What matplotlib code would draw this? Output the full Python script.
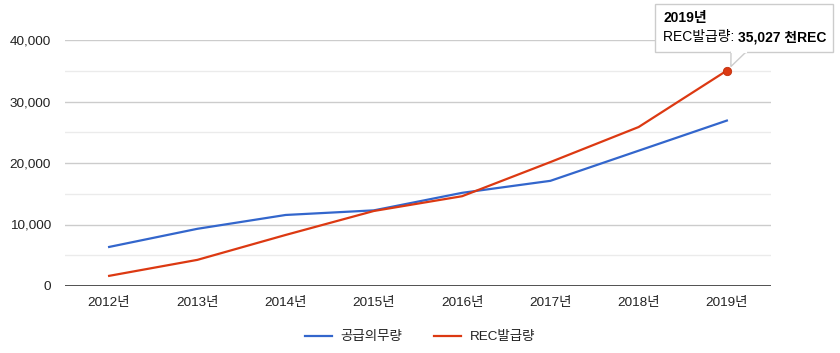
import matplotlib.pyplot as plt
from matplotlib.patches import Polygon, FancyBboxPatch

years = ['2012년', '2013년', '2014년', '2015년', '2016년', '2017년', '2018년', '2019년']
obligation = [6350, 9300, 11550, 12300, 15150, 17100, 22000, 26900]   # 공급의무량
rec_issued = [1650, 4250, 8300, 12200, 14600, 20150, 25850, 35027]   # REC발급량

BLUE = '#3366cc'
RED = '#dc3912'
FONT = ['Liberation Sans', 'Noto Sans CJK KR']

plt.rcParams['font.family'] = FONT

W, H = 840, 353
fig = plt.figure(figsize=(W / 100, H / 100), dpi=100)
ax = fig.add_axes([65 / W, 1 - 286 / H, (771 - 65) / W, (286 - 40) / H])

x = list(range(len(years)))
ax.plot(x, obligation, color=BLUE, lw=1.6, label='공급의무량', zorder=3)
ax.plot(x, rec_issued, color=RED, lw=1.6, label='REC발급량', zorder=3)
ax.plot([x[-1]], [rec_issued[-1]], 'o', color=RED, ms=6, mec='#c0300e', mew=0.6, zorder=4)

ax.set_xlim(-0.5, len(years) - 0.5)
ax.set_ylim(0, 40000)
ax.set_xticks(x)
ax.set_xticklabels(years)
ax.set_yticks([0, 10000, 20000, 30000, 40000])
ax.set_yticklabels(['0', '10,000', '20,000', '30,000', '40,000'])
for v in [5000, 15000, 25000, 35000]:
    ax.axhline(v, color='#ebebeb', lw=1, zorder=1)
for v in [10000, 20000, 30000, 40000]:
    ax.axhline(v, color='#cccccc', lw=1, zorder=1)
ax.axhline(0, color='#333333', lw=1.2, zorder=2)
for s in ax.spines.values():
    s.set_visible(False)
ax.tick_params(length=0, labelsize=9.7, labelcolor='#222222')
ax.tick_params(axis='x', pad=8)
ax.tick_params(axis='y', pad=10)

fig.legend(loc='center', bbox_to_anchor=(0.5, 1 - 337 / H), ncol=2, frameon=False,
           fontsize=9.7, handlelength=2.0, columnspacing=2.4, handletextpad=0.6,
           labelcolor='#222222')

# tooltip overlay in pixel coordinates
ov = fig.add_axes([0, 0, 1, 1], facecolor='none')
ov.set_xlim(0, W)
ov.set_ylim(H, 0)
ov.axis('off')

fig.canvas.draw()
tip = ax.transData.transform((x[-1], rec_issued[-1]))
tx, ty = tip[0], H - tip[1]

box = FancyBboxPatch((655, 4), 178, 48, boxstyle='square,pad=0', fc='white',
                     ec='#cccccc', lw=1, zorder=5)
ov.add_patch(box)
ov.add_patch(Polygon([(731, 52), (746, 52), (tx + 4, ty - 4)], closed=True,
                     fc='white', ec='#cccccc', lw=1, zorder=5))
ov.plot([731.5, 745.5], [52, 52], color='white', lw=1.5, zorder=6)

ov.text(663, 18, '2019년', fontsize=10, fontweight='bold', va='center', zorder=7,
        family=FONT)
t1 = ov.text(663, 37, 'REC발급량: ', fontsize=10, va='center', zorder=7, family=FONT)
r = fig.canvas.get_renderer()
bb = t1.get_window_extent(renderer=r)
ov.text(bb.x1, 37, '35,027 천REC', fontsize=10, fontweight='bold', va='center',
        zorder=7, family=FONT)

fig.savefig('out.png', dpi=100)
